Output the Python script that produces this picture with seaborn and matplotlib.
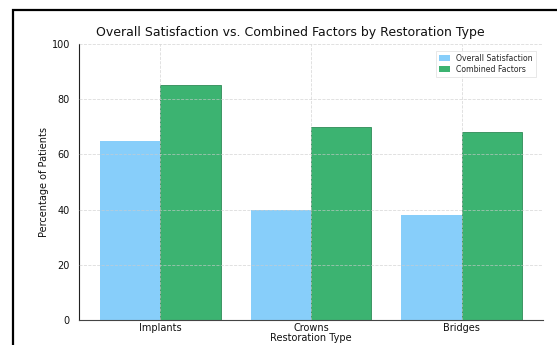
import matplotlib
matplotlib.use("Agg")
import matplotlib.pyplot as plt
from matplotlib.patches import Rectangle
import seaborn as sns
import pandas as pd

# Survey results per restoration type (percent of patients)
restoration_types = ["Implants", "Crowns", "Bridges"]
overall_satisfaction = [65, 40, 38]
combined_factors = [85, 70, 68]
series_names = ["Overall Satisfaction", "Combined Factors"]
palette = ["#87CEFA", "#3CB371"]

df = pd.DataFrame({
    "Restoration Type": restoration_types * 2,
    "Percentage": overall_satisfaction + combined_factors,
    "Series": [series_names[0]] * 3 + [series_names[1]] * 3,
})

sns.set_style("white")
plt.rcParams["font.family"] = ["DejaVu Sans"]

fig = plt.figure(figsize=(5.57, 3.45), dpi=100)
ax = fig.add_axes([0.1418, 0.0725, 0.8332, 0.80])

sns.barplot(data=df, x="Restoration Type", y="Percentage", hue="Series",
            hue_order=series_names, palette=palette, width=0.8,
            saturation=1, ax=ax, errorbar=None, linewidth=0.6,
            edgecolor="none")

for patch, col in zip(ax.patches, [palette[0]] * 3 + [palette[1]] * 3):
    if col == palette[1]:
        patch.set_edgecolor("#2E8B57")
        patch.set_linewidth(0.6)

ax.set_xlim(-0.54, 2.54)
ax.set_ylim(0, 100)
ax.set_yticks([0, 20, 40, 60, 80, 100])
ax.set_axisbelow(False)
ax.grid(True, linestyle="--", color="#cccccc", linewidth=0.6, alpha=0.7)

for side in ["top", "right"]:
    ax.spines[side].set_visible(False)
ax.spines["left"].set_color("#222222")
ax.spines["bottom"].set_color("#444444")
ax.spines["left"].set_linewidth(0.8)
ax.spines["bottom"].set_linewidth(0.8)
ax.tick_params(axis="both", labelsize=7, length=3, width=0.6, colors="#111111")
ax.tick_params(axis="x", length=0, pad=2)

ax.set_xlabel("Restoration Type", fontsize=7, labelpad=0, color="#111111")
ax.set_ylabel("Percentage of Patients", fontsize=7, labelpad=2, color="#111111")

fig.text(0.522, 0.905, "Overall Satisfaction vs. Combined Factors by Restoration Type",
         ha="center", va="center", fontsize=9, color="#111111")

leg = ax.legend(loc="upper right", fontsize=5.6, frameon=True, fancybox=False,
                edgecolor="#dddddd", handlelength=1.4, handleheight=0.8,
                borderpad=0.4, labelspacing=0.3, bbox_to_anchor=(0.993, 0.99))
leg.get_frame().set_linewidth(0.6)

# Outer black frame
fig.patches.append(Rectangle((13 / 557, -0.1), 1.2, 1 - 10 / 345 + 0.1,
                             transform=fig.transFigure, fill=False,
                             edgecolor="black", linewidth=1.6, zorder=10))

fig.savefig("out.png", dpi=100)
